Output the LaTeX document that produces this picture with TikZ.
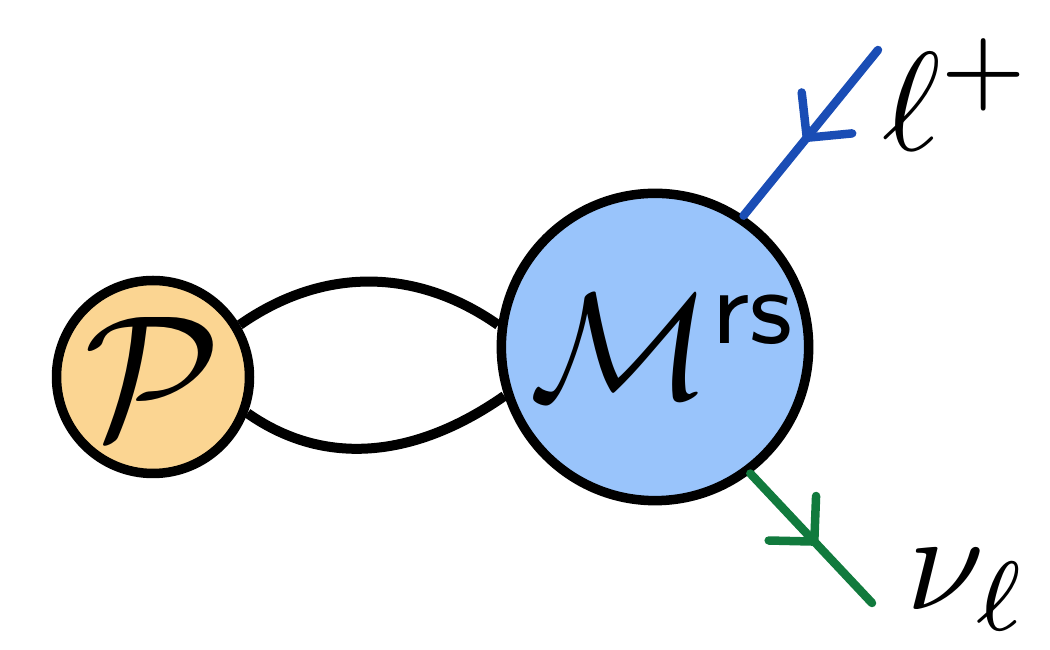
\documentclass[tikz,border=0pt]{standalone}
\usepackage{graphicx}
\usepackage{xcolor}
\usepackage{tikz}
\usetikzlibrary{arrows.meta, decorations.markings}

\definecolor{porange}{HTML}{FBD592}
\definecolor{mblue}{HTML}{99C4FB}
\definecolor{lepblue}{HTML}{1A4DB5}
\definecolor{nugreen}{HTML}{117A3D}

\newcommand{\biglabel}[2][4]{\scalebox{#1}{#2}}

\begin{document}
\begin{tikzpicture}[x=0.1mm, y=0.1mm]
    % Styles
    \tikzstyle{blob} = [circle, draw=black, line width=0.95mm, inner sep=0pt]
    \tikzstyle{loopline} = [line width=1mm]
    \tikzstyle{fermion} = [line width=0.85mm, line cap=round, postaction={decorate}, decoration={markings, mark=at position 0.55 with {\arrow{Straight Barb[length=3.2mm, width=6.5mm, line width=0.85mm, line cap=round, line join=round]}}}]

    \useasboundingbox (0,0) rectangle (1050,649);

    % Blobs
    \node[blob, fill=porange, minimum size=1.93cm] (P) at (153,272) {\biglabel[5]{$\mathcal{P}$}};
    \node[blob, fill=mblue, minimum size=2.98cm] (M) at (655,302) {\hspace{2mm}\biglabel[4.3]{$\mathcal{M}^{\mathsf{rs}}$}};

    % Loop between the blobs
    \draw[loopline] (P.31) to[out=35, in=145] (M.172);
    \draw[loopline] (P.-21) to[out=-35, in=-145] (M.-162);

    % External leptons
    \coordinate (lepend) at (878,599);
    \coordinate (nuend) at (872,46);
    \draw[fermion, lepblue] (lepend) -- (M.56);
    \draw[fermion, nugreen] (M.-53) -- (nuend);

    % Labels
    \node (lep) at (958,554) {\biglabel{$\ell^+$}};
    \node (nu) at (968,59) {\biglabel{$\nu_\ell$}};
\end{tikzpicture}
\end{document}
